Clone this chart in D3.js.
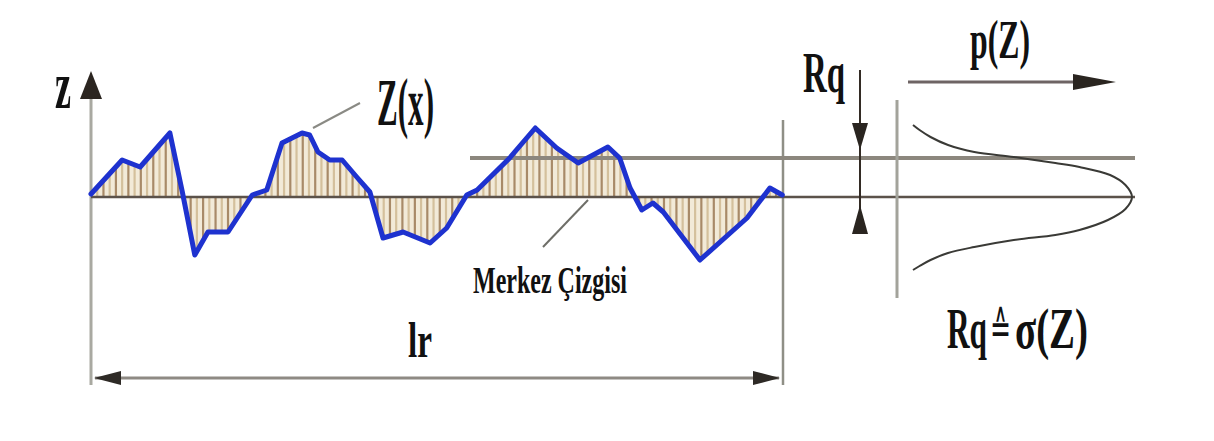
<!DOCTYPE html>
<html><head><meta charset="utf-8">
<script src="https://cdn.jsdelivr.net/npm/d3@7"></script>
<style>html,body{margin:0;padding:0;background:#fff;} svg{display:block;}</style>
</head><body><svg id="c" width="1214" height="441"></svg>
<script>
// ---- data ----
const profileX = [0, 4.5, 7.1, 11.4, 13.2, 15.0, 16.9, 19.8, 23.3, 25.4, 27.6, 30.5, 31.6, 32.8, 34.5, 36.3, 38.4, 40.3, 42.2, 45.1, 49.0, 51.4, 54.3, 55.8, 60.5, 64.2, 67.3, 70.4, 74.7, 76.4, 77.9, 79.6, 81.2, 82.7, 88.0, 94.8, 98.1, 99.9];
const profileZ = [0.3, 3.7, 3.0, 6.4, 0.5, -5.8, -3.5, -3.5, 0.2, 0.7, 5.4, 6.4, 6.2, 4.5, 3.7, 3.7, 2.0, 0.5, -4.1, -3.5, -4.6, -3.1, 0.2, 0.7, 3.9, 6.9, 4.9, 3.4, 5.0, 3.9, 0.9, -1.3, -0.6, -1.5, -6.3, -2.1, 0.9, 0.2];
const densityZ = [7.2, 6.7, 6.0, 5.2, 4.5, 4.0, 3.4, 3.0, 2.2, 1.2, 0, -1.2, -2.3, -3.3, -3.8, -4.3, -5.0, -5.6, -6.3, -6.9, -7.3];
const densityP = [0, 0.03, 0.08, 0.16, 0.28, 0.46, 0.65, 0.76, 0.90, 0.97, 1.0, 0.97, 0.89, 0.76, 0.65, 0.46, 0.28, 0.16, 0.08, 0.03, 0];
const rqLevel = 3.9;
const lrLength = 100;
const labelTexts = ["z", "Z(x)", "Rq", "p(Z)", "Merkez Çizgisi", "lr"];
const formulaParts = ["Rq", "≙", "σ(Z)"];

// ---- scales ----
const svg = d3.select("#c");
const x = d3.scaleLinear().domain([0, lrLength]).range([91, 783]);
const z = d3.scaleLinear().domain([-8, 8]).range([277, 117]);
const p = d3.scaleLinear().domain([0, 1]).range([913, 1132]);

svg.append("rect").attr("width", 1214).attr("height", 441).attr("fill", "#fff");

const prof = profileX.map((v, i) => [v, profileZ[i]]);

// hatched area between profile and centre line
const area = d3.area().x(d => x(d[0])).y0(z(0)).y1(d => z(d[1]));
svg.append("clipPath").attr("id", "hatch").append("path").attr("d", area(prof));
const hg = svg.append("g").attr("clip-path", "url(#hatch)");
hg.append("rect").attr("x", x(0)).attr("y", z(8)).attr("width", x(lrLength) - x(0)).attr("height", z(-8) - z(8)).attr("fill", "#f2ead8");
d3.range(0, lrLength, 0.9).forEach((v, i) => {
  hg.append("line").attr("x1", x(v)).attr("x2", x(v)).attr("y1", z(8)).attr("y2", z(-8))
    .attr("stroke", i % 2 ? "#d4c09c" : "#a88a68").attr("stroke-width", 2.2);
});

// Z axis
svg.append("line").attr("x1", x(0)).attr("x2", x(0)).attr("y1", 95).attr("y2", 385)
  .attr("stroke", "#a9a9a1").attr("stroke-width", 3);
svg.append("path").attr("d", `M${x(0)},71 L${x(0) + 11},99 L${x(0) - 11},99 Z`).attr("fill", "#2b2520");

// right boundary
svg.append("line").attr("x1", x(lrLength)).attr("x2", x(lrLength)).attr("y1", 120).attr("y2", 385)
  .attr("stroke", "#8f8f86").attr("stroke-width", 2.5);

// Rq line and centre line
svg.append("line").attr("x1", 470).attr("x2", 1135).attr("y1", z(rqLevel)).attr("y2", z(rqLevel))
  .attr("stroke", "#8c877e").attr("stroke-width", 4);
svg.append("line").attr("x1", x(0)).attr("x2", 1135).attr("y1", z(0)).attr("y2", z(0))
  .attr("stroke", "#5b524a").attr("stroke-width", 2.6);

// profile line
svg.append("path").attr("d", d3.line().x(d => x(d[0])).y(d => z(d[1]))(prof))
  .attr("fill", "none").attr("stroke", "#1e32cf").attr("stroke-width", 5)
  .attr("stroke-linejoin", "round").attr("stroke-linecap", "round");

// lr arrow
const ly = 378;
svg.append("line").attr("x1", x(0) + 4).attr("x2", x(lrLength) - 4).attr("y1", ly).attr("y2", ly)
  .attr("stroke", "#8e8a84").attr("stroke-width", 3);
svg.append("path").attr("d", `M${x(0) + 3},${ly} L${x(0) + 30},${ly - 7} L${x(0) + 30},${ly + 7} Z`).attr("fill", "#2e2a26");
svg.append("path").attr("d", `M${x(lrLength) - 3},${ly} L${x(lrLength) - 30},${ly - 7} L${x(lrLength) - 30},${ly + 7} Z`).attr("fill", "#2e2a26");

// Rq dimension arrow
const rx = 860;
svg.append("line").attr("x1", rx).attr("x2", rx).attr("y1", 70).attr("y2", 232)
  .attr("stroke", "#332b24").attr("stroke-width", 2);
svg.append("path").attr("d", `M${rx},${z(rqLevel) - 8} L${rx - 8},123 L${rx + 8},123 Z`).attr("fill", "#2a2520");
svg.append("path").attr("d", `M${rx},${z(0) + 8} L${rx - 8},234 L${rx + 8},234 Z`).attr("fill", "#2a2520");

// vertical line at distribution base
svg.append("line").attr("x1", 897).attr("x2", 897).attr("y1", 100).attr("y2", 298)
  .attr("stroke", "#a3a39b").attr("stroke-width", 3);

// density curve
svg.append("path").attr("d", d3.line().x((d, i) => p(densityP[i])).y(d => z(d)).curve(d3.curveCatmullRom)(densityZ))
  .attr("fill", "none").attr("stroke", "#3a3a36").attr("stroke-width", 2);

// p(Z) arrow
svg.append("line").attr("x1", 908).attr("x2", 1085).attr("y1", 82).attr("y2", 82)
  .attr("stroke", "#6e6464").attr("stroke-width", 3);
svg.append("path").attr("d", "M1116,82 L1073,74 L1073,90 Z").attr("fill", "#2a2520");

// leader lines
svg.append("line").attr("x1", 313).attr("y1", 128).attr("x2", 360).attr("y2", 103)
  .attr("stroke", "#8a8a84").attr("stroke-width", 2);
svg.append("line").attr("x1", 588).attr("y1", 200).attr("x2", 543).attr("y2", 247)
  .attr("stroke", "#6e6e68").attr("stroke-width", 2);

// labels: condensed via horizontal scale to a target width
const serif = "'Liberation Serif', 'Times New Roman', serif";
function label(t, lx, by, len, size, fam, weight) {
  const el = svg.append("text").attr("x", 0).attr("y", 0).text(t)
    .attr("font-family", fam || serif).attr("font-weight", weight || "bold")
    .attr("font-size", size).attr("fill", "#111");
  const w = el.node().getComputedTextLength() || len;
  el.attr("transform", `translate(${lx},${by}) scale(${len / w},1)`);
}
label(labelTexts[0], 55, 108, 16, 68);
label(labelTexts[1], 377, 125, 57, 68);
label(labelTexts[2], 803, 92, 42, 56);
label(labelTexts[3], 970, 58, 60, 54);
label(labelTexts[4], 473, 293, 154, 38);
label(labelTexts[5], 408, 357, 24, 50);
label(formulaParts[0], 947, 348, 40, 57);
label(formulaParts[1], 990, 344, 21, 46, "'DejaVu Sans', sans-serif", "normal");
label(formulaParts[2], 1015, 348, 73, 57);
</script></body></html>
